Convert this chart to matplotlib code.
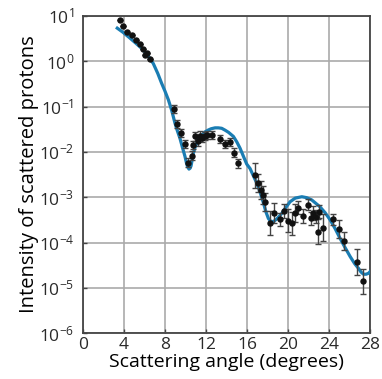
import numpy as np
import matplotlib
matplotlib.use("Agg")
import matplotlib.pyplot as plt

# measured points: angle (deg), log10 intensity, error (decades)
angle = [3.61, 3.87, 4.26, 4.75, 5.14, 5.56, 5.88, 6.27, 6.02, 6.54,
         8.85, 9.22, 9.60, 9.92, 10.28, 10.60, 10.74, 10.92, 11.25, 11.42,
         11.62, 11.90, 12.13, 12.55, 13.37, 13.85, 14.38, 14.70, 15.16,
         16.75, 17.10, 17.37, 17.55, 17.76, 18.22, 18.60, 19.20, 19.64,
         20.03, 20.36, 20.68, 20.92, 21.42, 21.98, 22.21, 22.47, 22.73,
         23.05, 22.96, 23.45, 24.42, 25.00, 25.46, 26.70, 27.35]
log_int = [0.90, 0.78, 0.65, 0.58, 0.47, 0.37, 0.27, 0.19, 0.13, 0.04,
           -1.05, -1.38, -1.59, -1.83, -2.24, -2.09, -1.85, -1.66, -1.77, -1.64,
           -1.69, -1.65, -1.63, -1.63, -1.72, -1.83, -1.78, -2.02, -2.25,
           -2.52, -2.69, -2.84, -2.95, -3.10, -3.57, -3.35, -3.49, -3.30,
           -3.52, -3.58, -3.34, -3.23, -3.41, -3.17, -3.47, -3.35, -3.43,
           -3.32, -3.76, -3.67, -3.49, -3.71, -3.96, -4.43, -4.86]
log_err = [0, 0, 0, 0, 0, 0, 0, 0, 0, 0,
           0.09, 0.09, 0.09, 0.09, 0.10, 0.10, 0.09, 0.09, 0.09, 0.09,
           0.09, 0.09, 0.09, 0.09, 0.09, 0.09, 0.09, 0.10, 0.10,
           0.27, 0.20, 0.20, 0.20, 0.20, 0.27, 0.22, 0.15, 0.15,
           0.25, 0.25, 0.20, 0.15, 0.15, 0.12, 0.15, 0.15, 0.15,
           0.15, 0.28, 0.30, 0.12, 0.20, 0.20, 0.28, 0.28]

# theoretical curve
curve_angle = [3.35, 3.90, 4.59, 5.20, 5.89, 6.40, 6.86, 7.30, 7.68, 8.00,
               8.33, 8.65, 8.98, 9.20, 9.46, 9.70, 9.95, 10.10, 10.21, 10.34,
               10.45, 10.54, 10.65, 10.76, 10.90, 11.09, 11.30, 11.58, 11.90,
               12.20, 12.50, 12.88, 13.20, 13.53, 13.85, 14.20, 14.67, 15.00,
               15.32, 15.65, 15.97, 16.30, 16.60, 16.95, 17.30, 17.60, 17.85,
               18.08, 18.30, 18.57, 18.90, 19.38, 19.80, 20.20, 20.70, 21.34,
               21.80, 22.30, 23.10, 23.60, 24.10, 24.60, 25.07, 25.55, 26.05,
               26.50, 26.86, 27.10, 27.35, 27.60, 27.84, 28.00]
curve_log = [0.73, 0.64, 0.51, 0.39, 0.25, 0.10, -0.05, -0.27, -0.49, -0.66,
             -0.85, -1.08, -1.37, -1.53, -1.70, -1.90, -2.10, -2.25, -2.33, -2.38,
             -2.36, -2.31, -2.18, -2.03, -1.92, -1.81, -1.71, -1.63, -1.56,
             -1.52, -1.49, -1.47, -1.47, -1.48, -1.52, -1.57, -1.66, -1.78,
             -1.92, -2.10, -2.27, -2.37, -2.52, -2.69, -2.91, -3.13, -3.33,
             -3.47, -3.53, -3.54, -3.48, -3.36, -3.22, -3.10, -3.02, -2.99,
             -3.01, -3.06, -3.21, -3.34, -3.50, -3.70, -3.91, -4.11, -4.31,
             -4.47, -4.57, -4.65, -4.70, -4.70, -4.68, -4.64]

xticks = [0, 4, 8, 12, 16, 20, 24, 28]

plt.rcParams['font.family'] = ['Open Sans', 'DejaVu Sans']
plt.rcParams['mathtext.default'] = 'regular'
plt.rcParams['text.color'] = '#2a2a2a'
plt.rcParams['xtick.color'] = '#444444'
plt.rcParams['ytick.color'] = '#444444'
plt.rcParams['xtick.labelcolor'] = '#2a2a2a'
plt.rcParams['ytick.labelcolor'] = '#2a2a2a'

fig = plt.figure(figsize=(3.82, 3.79), dpi=100)
ax = fig.add_axes([0.217, 0.121, 0.752, 0.837])

y = 10 ** np.array(log_int)
err = np.array(log_err)
ylo = y - 10 ** (np.array(log_int) - err)
yhi = 10 ** (np.array(log_int) + err) - y

ax.plot(curve_angle, 10 ** np.array(curve_log),
        color="#1a7db3", lw=2.3, zorder=3, solid_joinstyle="round")
ax.errorbar(angle, y, yerr=[ylo, yhi], fmt="o", ms=3.6, color="#111111",
            ecolor="#444444", elinewidth=1.0, capsize=2.4, capthick=1.0,
            zorder=4)

ax.set_yscale("log")
ax.set_xlim(0, 28)
ax.set_ylim(1e-6, 1e1)
ax.set_xticks(xticks)
ax.set_yticks([10.0 ** k for k in range(-6, 2)])
ax.minorticks_off()
ax.tick_params(direction="in", length=3, width=1.0, labelsize=12.5)
ax.tick_params(axis="y", pad=6)
ax.tick_params(axis="x", pad=3)
ax.grid(True, color="#aaaaaa", lw=1.2)
ax.set_axisbelow(True)
for s in ax.spines.values():
    s.set_color("#444444")
    s.set_linewidth(1.3)

ax.set_xlabel("Scattering angle (degrees)", fontsize=14, labelpad=0)
ax.set_ylabel("Intensity of scattered protons", fontsize=14.5, labelpad=0)

fig.savefig("out.png", dpi=100)
